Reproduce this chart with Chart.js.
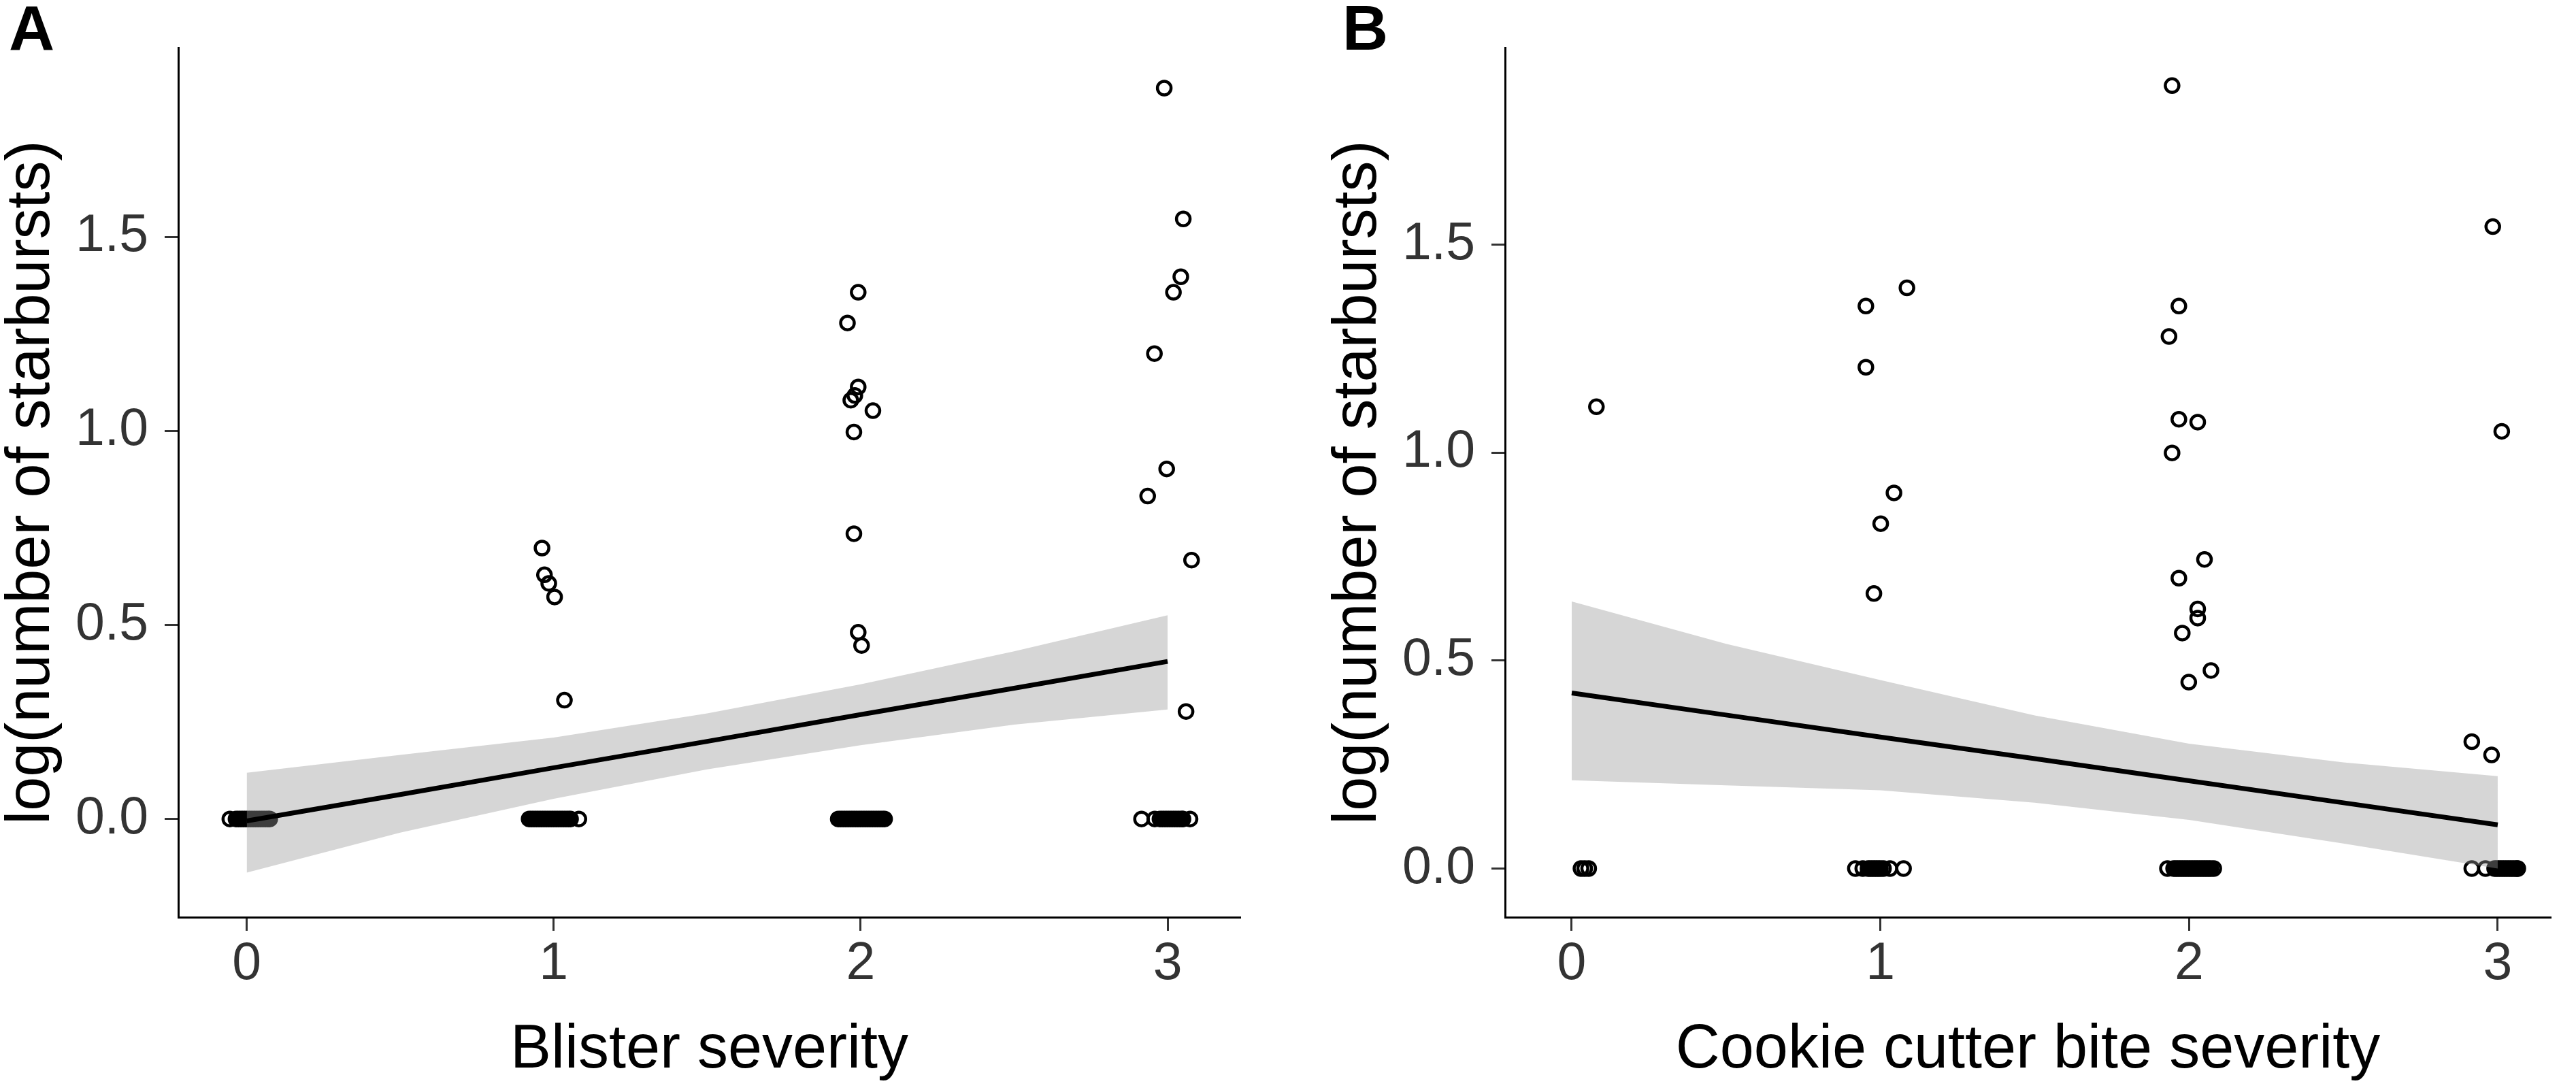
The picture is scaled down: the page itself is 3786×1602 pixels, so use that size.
<!DOCTYPE html>
<html lang="en">
<head>
<meta charset="UTF-8">
<title>Starbursts vs blister and cookie cutter bite severity</title>
<script src="https://cdn.jsdelivr.net/npm/chart.js@4.4.1/dist/chart.umd.min.js"></script>
<style>
    html, body {
        margin: 0;
        padding: 0;
        background: #fff;
    }
    body {
        width: 3786px;
        height: 1602px;
        position: relative;
        overflow: hidden;
        font-family: 'Liberation Sans', Arial, sans-serif;
    }
    canvas {
        position: absolute;
        top: 0;
        display: block;
    }
    .tag {
        position: absolute;
        top: -5px;
        font-size: 93px;
        font-weight: bold;
        line-height: 1;
        color: #000;
        z-index: 2;
    }
</style>
</head>
<body>
<canvas id="chartA" style="left:0px" width="1893" height="1602"></canvas>
<canvas id="chartB" style="left:1950px" width="1836" height="1602"></canvas>
<div class="tag" style="left:13px">A</div>
<div class="tag" style="left:1973px">B</div>

<script>
// axis ticks
const severityTicks = [0, 1, 2, 3];
const severityTickLabels = ['0', '1', '2', '3'];
const logTicks = [0, 0.5, 1.0, 1.5];
const logTickLabels = ['0.0', '0.5', '1.0', '1.5'];

// panel A: blister severity (jittered x) vs log(number of starbursts)
// fish with no starbursts (y = 0), jittered x
const blisterZeroX = [
    -0.055, -0.035, -0.027, -0.019, -0.011, -0.003, 0.005, 0.013, 0.021, 0.029, 0.037, 0.045, 0.053, 0.061, 0.069, 0.075,
    0.920, 0.928, 0.936, 0.944, 0.952, 0.960, 0.968, 0.976, 0.984, 0.992, 1.000, 1.008, 1.016, 1.024, 1.032, 1.040, 1.048, 1.055, 1.082,
    1.927, 1.935, 1.943, 1.951, 1.959, 1.967, 1.975, 1.983, 1.991, 1.999, 2.007, 2.015, 2.023, 2.031, 2.039, 2.047, 2.055, 2.063, 2.071, 2.078,
    2.915, 2.958, 2.975, 2.983, 2.991, 2.999, 3.007, 3.015, 3.023, 3.031, 3.039, 3.047, 3.050, 3.073
];
// fish with starbursts
const blisterX = [
    0.962, 0.970, 0.984, 1.003, 1.035,
    1.992, 1.957, 1.992, 1.981, 1.968, 2.040, 1.978, 1.978, 1.992, 2.003,
    2.989, 3.051, 3.043, 3.019, 2.957, 2.997, 2.935, 3.078, 3.060
];
const blisterY = [
    0.698, 0.629, 0.607, 0.572, 0.306,
    1.357, 1.278, 1.113, 1.091, 1.079, 1.052, 0.997, 0.735, 0.481, 0.447,
    1.883, 1.546, 1.397, 1.357, 1.199, 0.902, 0.832, 0.667, 0.277
];

// panel B: cookie cutter bite severity
const cookieZeroX = [
    0.030, 0.042, 0.055,
    0.919, 0.943, 0.960, 0.968, 0.976, 0.984, 0.992, 1.000, 1.010, 1.031, 1.075,
    1.930, 1.950, 1.958, 1.966, 1.974, 1.982, 1.990, 1.998, 2.006, 2.014, 2.022, 2.030, 2.038, 2.046, 2.054, 2.062, 2.070, 2.080,
    2.916, 2.960, 2.990, 2.998, 3.006, 3.014, 3.022, 3.030, 3.038, 3.046, 3.054, 3.062, 3.065
];
const cookieX = [
    0.080,
    0.953, 1.086, 0.953, 1.044, 1.001, 0.979,
    1.945, 1.967, 1.935, 1.967, 2.028, 1.945, 2.050, 1.967, 2.028, 2.028, 1.978, 2.071, 1.999,
    2.984, 3.013, 2.916, 2.980
];
const cookieY = [
    1.110,
    1.352, 1.396, 1.205, 0.903, 0.829, 0.661,
    1.882, 1.352, 1.279, 1.080, 1.073, 0.999, 0.743, 0.698, 0.624, 0.602, 0.566, 0.476, 0.448,
    1.543, 1.051, 0.305, 0.273
];

// linear fits with confidence band, read at these x values
const fitX = [0, 0.5, 1, 1.5, 2, 2.5, 3];
const blisterFit = [-0.005, 0.063, 0.132, 0.200, 0.269, 0.337, 0.406];
const blisterUpper = [0.119, 0.165, 0.210, 0.272, 0.347, 0.432, 0.525];
const blisterLower = [-0.138, -0.035, 0.052, 0.128, 0.190, 0.243, 0.282];
const cookieFit = [0.422, 0.369, 0.316, 0.264, 0.211, 0.158, 0.105];
const cookieUpper = [0.642, 0.540, 0.453, 0.368, 0.300, 0.255, 0.222];
const cookieLower = [0.212, 0.200, 0.188, 0.158, 0.117, 0.060, 0.000];

const FONT = "'Liberation Sans', Arial, sans-serif";

function pairs(xs, ys) {
    return xs.map((x, i) => ({x: x, y: ys[i]}));
}

function buildPanel(canvasId, cfg) {
    const ctx = document.getElementById(canvasId).getContext('2d');
    const observations = cfg.zeroX.map(x => ({x: x, y: 0})).concat(pairs(cfg.xs, cfg.ys));
    return new Chart(ctx, {
        type: 'line',
        data: {
            datasets: [
                {
                    // regression line, drawn on top
                    data: pairs(fitX, cfg.fit),
                    borderColor: '#000',
                    borderWidth: 7,
                    pointRadius: 0,
                    tension: 0,
                    fill: false,
                    order: 0
                },
                {
                    // upper band, filled down to the lower band
                    data: pairs(fitX, cfg.upper),
                    borderColor: 'rgba(0,0,0,0)',
                    borderWidth: 0,
                    pointRadius: 0,
                    tension: 0,
                    fill: {target: 2},
                    backgroundColor: 'rgba(153,153,153,0.4)',
                    order: 1
                },
                {
                    data: pairs(fitX, cfg.lower),
                    borderColor: 'rgba(0,0,0,0)',
                    borderWidth: 0,
                    pointRadius: 0,
                    tension: 0,
                    fill: false,
                    order: 1
                },
                {
                    // observations
                    data: observations,
                    showLine: false,
                    pointStyle: 'circle',
                    pointRadius: 10,
                    pointBorderWidth: 4.5,
                    pointBorderColor: '#000',
                    pointBackgroundColor: 'rgba(0,0,0,0)',
                    order: 2
                }
            ]
        },
        options: {
            responsive: false,
            animation: false,
            devicePixelRatio: 1,
            layout: {
                padding: {top: 12, right: cfg.padRight, bottom: 0, left: 0}
            },
            plugins: {
                legend: {display: false},
                tooltip: {enabled: false}
            },
            scales: {
                x: {
                    type: 'linear',
                    min: cfg.xMin,
                    max: cfg.xMax,
                    afterBuildTicks: s => { s.ticks = severityTicks.map(v => ({value: v})); },
                    afterFit: s => { s.height = 254; },
                    ticks: {
                        autoSkip: false,
                        maxRotation: 0,
                        padding: 4,
                        color: '#333',
                        font: {family: FONT, size: 77},
                        callback: v => severityTickLabels[severityTicks.indexOf(v)]
                    },
                    grid: {
                        drawOnChartArea: false,
                        drawTicks: true,
                        tickLength: 20,
                        tickWidth: 3,
                        tickColor: '#333'
                    },
                    border: {display: true, color: '#000', width: 3},
                    title: {
                        display: true,
                        text: cfg.xTitle,
                        color: '#000',
                        font: {family: FONT, size: 90, lineHeight: 1},
                        padding: {top: 0, bottom: 13}
                    }
                },
                y: {
                    type: 'linear',
                    min: cfg.yMin,
                    max: cfg.yMax,
                    afterBuildTicks: s => { s.ticks = logTicks.map(v => ({value: v})); },
                    afterFit: s => { s.width = 262; },
                    ticks: {
                        autoSkip: false,
                        padding: 24,
                        color: '#333',
                        font: {family: FONT, size: 77},
                        callback: v => logTickLabels[logTicks.indexOf(v)]
                    },
                    grid: {
                        drawOnChartArea: false,
                        drawTicks: true,
                        tickLength: 20,
                        tickWidth: 3,
                        tickColor: '#333'
                    },
                    border: {display: true, color: '#000', width: 3},
                    title: {
                        display: true,
                        text: 'log(number of starbursts)',
                        color: '#000',
                        font: {family: FONT, size: 90, lineHeight: 1},
                        padding: {top: 2, bottom: 0}
                    }
                }
            }
        }
    });
}

buildPanel('chartA', {
    zeroX: blisterZeroX, xs: blisterX, ys: blisterY,
    fit: blisterFit, upper: blisterUpper, lower: blisterLower,
    xTitle: 'Blister severity',
    xMin: -0.223, xMax: 3.237,
    yMin: -0.253, yMax: 1.987,
    padRight: 70
});

buildPanel('chartB', {
    zeroX: cookieZeroX, xs: cookieX, ys: cookieY,
    fit: cookieFit, upper: cookieUpper, lower: cookieLower,
    xTitle: 'Cookie cutter bite severity',
    xMin: -0.216, xMax: 3.172,
    yMin: -0.117, yMax: 1.973,
    padRight: 37
});
</script>
</body>
</html>
